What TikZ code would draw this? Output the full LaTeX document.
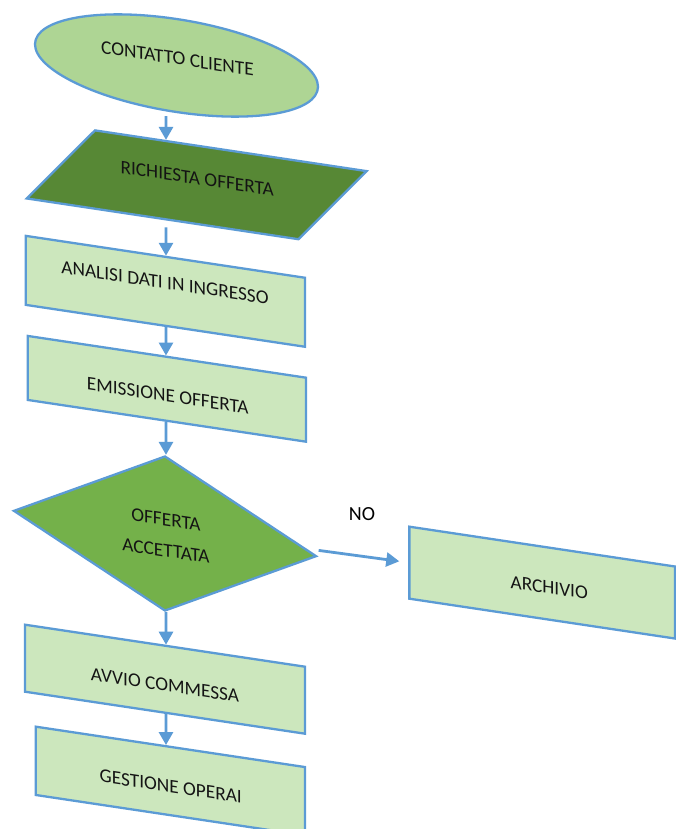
\documentclass[tikz,border=0pt]{standalone}
\usepackage{fontspec}
\setmainfont{Carlito}
\usetikzlibrary{shapes.geometric,arrows.meta,calc}
\definecolor{lineblue}{HTML}{5B9BD5}
\definecolor{ellfill}{HTML}{AED594}
\definecolor{rectfill}{HTML}{CCE7BD}
\definecolor{parafill}{HTML}{578835}
\definecolor{diafill}{HTML}{74B14A}
\definecolor{txt}{HTML}{141414}
\tikzset{
  shapebase/.style={draw=lineblue, line width=2.3pt, inner sep=0pt, yslant=-0.15},
  procbox/.style={shapebase, rectangle, fill=rectfill},
  lbl/.style={inner sep=0pt, yslant=-0.15, text=txt, font=\fontsize{19.3}{31}\selectfont, align=center},
  arr/.style={draw=lineblue, line width=2.8pt, -{Triangle[length=13pt,width=14pt]}}
}
\begin{document}
\begin{tikzpicture}[x=1pt,y=-1pt]
\useasboundingbox (0,0) rectangle (676,829);
\fill[white] (0,0) rectangle (676,829);
\clip (0,0) rectangle (676,829);
\coordinate (col) at (166,0);
\coordinate (colb) at (166,829);
% shapes
\node[shapebase, ellipse, fill=ellfill, minimum width=283pt, minimum height=93pt] (e) at (176.5,65.5) {};
\node[shapebase, rectangle, fill=parafill, xslant=0.872, minimum width=271.7pt, minimum height=78.3pt] (r) at (196.7,184.8) {};
\node[procbox, minimum width=279.3pt, minimum height=69pt] (a1) at (165.3,291.3) {};
\node[procbox, minimum width=278.3pt, minimum height=64pt] (a2) at (166.8,388.8) {};
\node[shapebase, diamond, fill=diafill, minimum width=303pt, minimum height=155pt] (d) at (165,533.5) {};
\node[procbox, minimum width=280pt, minimum height=67pt] (a3) at (165,679.2) {};
\node[procbox, minimum width=269.3pt, minimum height=68.3pt] (a4) at (170.3,781) {};
\node[procbox, minimum width=265.7pt, minimum height=72pt] (ar) at (542.2,582.6) {};
% texts
\node[lbl] (te) at (177.5,58.5) {CONTATTO CLIENTE};
\node[lbl] (tr) at (197.2,178.3) {RICHIESTA OFFERTA};
\node[lbl] (t1) at (165,282.6) {ANALISI DATI IN INGRESSO};
\node[lbl] (t2) at (167.8,395.8) {EMISSIONE OFFERTA};
\node[lbl] (td) at (166,535.2) {OFFERTA\\ACCETTATA};
\node[lbl] (t3) at (165,685.2) {AVVIO COMMESSA};
\node[lbl] (t4) at (170.8,786.3) {GESTIONE OPERAI};
\node[lbl] (tar) at (549.2,587.6) {ARCHIVIO};
\node[inner sep=0pt, text=black, font=\fontsize{20}{24}\selectfont] (no) at (362,514) {NO};
% connectors
\draw[arr] ($(e.south -| col)+(0,3)$) -- (intersection of r.north west--r.north east and col--colb);
\draw[arr, shorten <=7pt] (intersection of r.south west--r.south east and col--colb) -- (intersection of a1.north west--a1.north east and col--colb);
\draw[arr] (intersection of a1.south west--a1.south east and col--colb) -- (intersection of a2.north west--a2.north east and col--colb);
\draw[arr] (intersection of a2.south west--a2.south east and col--colb) -- (d.north -| col);
\draw[arr] (d.south -| col) -- (intersection of a3.north west--a3.north east and col--colb);
\draw[arr] (intersection of a3.south west--a3.south east and col--colb) -- (intersection of a4.north west--a4.north east and col--colb);
\draw[arr, shorten >=9pt] ($(d.east)+(1,-6)$) -- (ar.west);
\end{tikzpicture}
\end{document}
